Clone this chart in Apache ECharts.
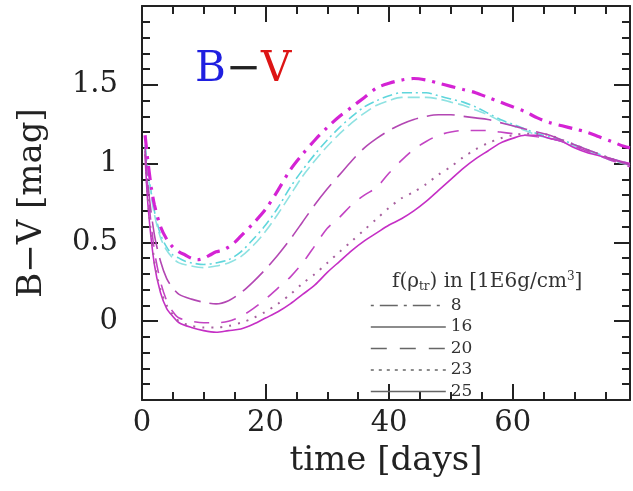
<!DOCTYPE html>
<html>
<head>
<meta charset="utf-8">
<script src="https://cdn.jsdelivr.net/npm/echarts@6/dist/echarts.min.js"></script>
<style>html,body{margin:0;padding:0;background:#fff}#c{width:633px;height:491px}</style>
</head>
<body>
<div id="c"></div>
<script>
// ---- data (days, B-V mag) ----
const legendNames = ['8', '16', '20', '23', '25'];
const xTicks = [0, 20, 40, 60];
const yTicks = [0, 0.5, 1, 1.5];

const curve8 = [[0.5,1.18],[1,1.0],[1.5,0.85],[2,0.74],[3,0.6],[4,0.52],[5,0.47],[6,0.44],[7,0.42],[8,0.40],[9,0.39],[10,0.40],[11,0.42],[12,0.44],[13,0.45],[14,0.47],[15,0.50],[16,0.54],[18,0.62],[20,0.71],[22,0.83],[24,0.96],[26,1.06],[28,1.15],[30,1.23],[32,1.30],[34,1.36],[36,1.42],[38,1.48],[40,1.51],[42,1.53],[44,1.54],[46,1.53],[48,1.51],[50,1.49],[52,1.47],[54,1.45],[56,1.42],[58,1.39],[60,1.36],[62,1.33],[64,1.29],[66,1.26],[68,1.24],[70,1.22],[72,1.20],[74,1.17],[76,1.14],[78,1.11],[79,1.10]];
const cyanA = [[0.5,1.12],[1,0.95],[2,0.7],[3,0.55],[4,0.47],[5,0.42],[6,0.40],[7,0.38],[8,0.37],[10,0.36],[12,0.37],[14,0.39],[16,0.44],[18,0.52],[20,0.61],[22,0.72],[24,0.85],[26,0.96],[28,1.06],[30,1.15],[32,1.23],[34,1.30],[36,1.36],[38,1.40],[40,1.43],[42,1.45],[44,1.45],[46,1.45],[48,1.43],[50,1.41],[52,1.39],[54,1.36],[56,1.32],[58,1.28],[60,1.25],[62,1.22],[64,1.19],[66,1.17],[68,1.15],[70,1.12],[72,1.09],[74,1.06],[76,1.03],[79,1.0]];
const cyanB = [[0.5,1.10],[1,0.92],[2,0.68],[3,0.53],[4,0.45],[5,0.40],[6,0.37],[8,0.35],[10,0.34],[12,0.35],[14,0.37],[16,0.41],[18,0.48],[20,0.57],[22,0.68],[24,0.80],[26,0.92],[28,1.02],[30,1.11],[32,1.19],[34,1.26],[36,1.32],[38,1.37],[40,1.40],[42,1.42],[44,1.42],[46,1.42],[48,1.41],[50,1.39],[52,1.37],[54,1.34],[56,1.31],[58,1.27],[60,1.24],[62,1.21],[64,1.18],[66,1.16],[68,1.14],[70,1.11],[72,1.08],[74,1.05],[76,1.02],[79,0.99]];
const curve16 = [[0.5,1.1],[1,0.85],[2,0.55],[3,0.38],[4,0.27],[5,0.21],[6,0.17],[8,0.14],[10,0.12],[12,0.11],[14,0.13],[16,0.18],[18,0.25],[20,0.33],[22,0.42],[24,0.52],[26,0.63],[28,0.74],[30,0.84],[32,0.93],[34,1.02],[36,1.10],[38,1.16],[40,1.21],[42,1.25],[44,1.28],[46,1.30],[48,1.31],[50,1.31],[52,1.30],[54,1.29],[56,1.28],[58,1.26],[60,1.24],[62,1.22],[64,1.20],[66,1.18],[68,1.15],[70,1.12],[72,1.09],[74,1.06],[76,1.03],[79,0.99]];
const curve20 = [[0.5,1.08],[1,0.8],[2,0.45],[3,0.25],[4,0.13],[5,0.06],[6,0.02],[8,0.0],[10,-0.01],[12,-0.01],[14,0.0],[16,0.03],[18,0.08],[20,0.14],[22,0.21],[24,0.28],[26,0.37],[28,0.48],[30,0.59],[32,0.66],[34,0.74],[36,0.80],[38,0.85],[40,0.94],[42,1.02],[44,1.09],[46,1.14],[48,1.18],[50,1.20],[52,1.21],[54,1.21],[56,1.21],[58,1.20],[60,1.19],[62,1.18],[64,1.17],[66,1.16],[68,1.14],[70,1.11],[72,1.08],[74,1.05],[76,1.02],[79,0.98]];
const curve23 = [[0.5,1.06],[1,0.75],[2,0.38],[3,0.2],[4,0.1],[5,0.04],[6,0.0],[8,-0.03],[10,-0.04],[12,-0.04],[14,-0.03],[16,-0.01],[18,0.02],[20,0.06],[22,0.11],[24,0.17],[26,0.24],[28,0.30],[30,0.37],[32,0.44],[34,0.51],[36,0.58],[38,0.65],[40,0.72],[42,0.78],[44,0.82],[46,0.87],[48,0.93],[50,0.98],[52,1.04],[54,1.09],[56,1.13],[58,1.16],[60,1.18],[62,1.19],[64,1.19],[66,1.18],[68,1.15],[70,1.12],[72,1.09],[74,1.06],[76,1.03],[79,0.99]];
const curve25 = [[0.5,1.05],[1,0.72],[2,0.36],[3,0.18],[4,0.08],[5,0.03],[6,-0.01],[8,-0.04],[10,-0.06],[12,-0.07],[14,-0.06],[16,-0.05],[18,-0.02],[20,0.02],[22,0.06],[24,0.11],[26,0.17],[28,0.23],[30,0.31],[32,0.38],[34,0.45],[36,0.51],[38,0.56],[40,0.61],[42,0.65],[44,0.70],[46,0.76],[48,0.83],[50,0.90],[52,0.97],[54,1.03],[56,1.08],[58,1.13],[60,1.16],[62,1.18],[64,1.18],[66,1.16],[68,1.14],[70,1.10],[72,1.07],[74,1.05],[76,1.03],[79,1.0]];

const FONT = 'DejaVu Serif';
const INK = '#222';
const chart = echarts.init(document.getElementById('c'), null, {renderer: 'canvas'});

function xAx(pos, interval, tickLen, showLabel, showLine, name) {
  return {
    type: 'value', position: pos, min: 0, max: 79, interval: interval,
    name: name || '', nameLocation: 'middle', nameGap: 44,
    nameTextStyle: {fontFamily: FONT, fontSize: 34, color: INK},
    axisLine: {show: showLine, onZero: false, lineStyle: {color: INK, width: 2}},
    axisTick: {show: true, inside: true, length: tickLen, lineStyle: {color: INK, width: 2}},
    axisLabel: {show: showLabel, margin: 9, fontFamily: FONT, fontSize: 29, color: INK,
      formatter: v => xTicks.indexOf(v) >= 0 ? String(v) : ''},
    splitLine: {show: false}
  };
}
function yAx(pos, showLabel, name) {
  return {
    type: 'value', position: pos, min: -0.5, max: 2, interval: 0.5,
    name: name || '', nameLocation: 'middle', nameGap: 93,
    nameTextStyle: {fontFamily: FONT, fontSize: 34, color: INK},
    axisLine: {show: true, onZero: false, lineStyle: {color: INK, width: 2}},
    axisTick: {show: true, inside: true, length: 16, lineStyle: {color: INK, width: 2}},
    minorTick: {show: true, splitNumber: 5, length: 8, lineStyle: {color: INK, width: 2}},
    axisLabel: {show: showLabel, margin: 24, fontFamily: FONT, fontSize: 29, color: INK,
      formatter: v => yTicks.indexOf(v) >= 0 ? String(v) : ''},
    splitLine: {show: false}, minorSplitLine: {show: false}
  };
}
function ln(name, data, color, width, type) {
  return {name: name, type: 'line', data: data, xAxisIndex: 0, yAxisIndex: 0,
    showSymbol: false, symbol: 'none', smooth: 0.3, silent: true, animation: false,
    lineStyle: {color: color, width: width, type: type}, itemStyle: {color: color}};
}
const legendLine = {color: '#666', width: 1.6};
const noSym = {color: 'transparent', borderColor: 'transparent', borderWidth: 0};
chart.setOption({
  animation: false,
  grid: {left: 142, top: 6, width: 498, height: 394, containLabel: false},
  xAxis: [
    xAx('bottom', 20, 16, true, true, 'time [days]'),
    xAx('bottom', 5, 8, false, false),
    xAx('top', 20, 16, false, true),
    xAx('top', 5, 8, false, false)
  ],
  yAxis: [yAx('left', true, 'B\u2212V [mag]'), yAx('right', false)],
  title: [
    {left: 190, top: 44, text: '{b|B}{m|\u2212}{v|V}',
     textStyle: {fontWeight: 'normal', rich: {
       b: {fontFamily: FONT, fontSize: 42, fontWeight: 'normal', color: '#1f1fe0'},
       m: {fontFamily: FONT, fontSize: 42, fontWeight: 'normal', color: '#222'},
       v: {fontFamily: FONT, fontSize: 42, fontWeight: 'normal', color: '#dd1515'}}}},
    {left: 387, top: 266, text: '{a|f(\u03C1}{s|tr}{a|) in [1E6g/cm}{p|3}{a|]}',
     textStyle: {fontWeight: 'normal', rich: {
       a: {fontFamily: FONT, fontSize: 20, fontWeight: 'normal', color: '#333'},
       s: {fontFamily: FONT, fontSize: 12, fontWeight: 'normal', color: '#333', padding: [10, 0, 0, 0]},
       p: {fontFamily: FONT, fontSize: 12, fontWeight: 'normal', color: '#333', padding: [0, 0, 10, 0]}}}}
  ],
  legend: {
    orient: 'vertical', left: 365, top: 292, itemWidth: 75, itemHeight: 12, itemGap: 4.5,
    selectedMode: false,
    itemStyle: noSym,
    textStyle: {fontFamily: FONT, fontSize: 17, color: '#333', lineHeight: 14},
    data: [
      {name: legendNames[0], itemStyle: noSym, lineStyle: Object.assign({type: [3, 6, 18, 6]}, legendLine)},
      {name: legendNames[1], itemStyle: noSym, lineStyle: Object.assign({type: 'solid'}, legendLine)},
      {name: legendNames[2], itemStyle: noSym, lineStyle: Object.assign({type: [16, 13]}, legendLine)},
      {name: legendNames[3], itemStyle: noSym, lineStyle: Object.assign({type: [3, 5]}, legendLine)},
      {name: legendNames[4], itemStyle: noSym, lineStyle: Object.assign({type: 'solid'}, legendLine)}
    ]
  },
  series: [
    ln('cyanA', cyanA, '#5fd6dc', 1.6, [10, 4, 2, 4]),
    ln('cyanB', cyanB, '#8fe2e2', 1.6, [12, 5]),
    ln(legendNames[4], curve25, '#c52fc5', 1.6, 'solid'),
    ln(legendNames[3], curve23, '#a8609f', 2, [2, 7]),
    ln(legendNames[2], curve20, '#c344c3', 1.6, [15, 12]),
    ln(legendNames[1], curve16, '#b347b3', 1.6, [28, 9]),
    ln(legendNames[0], curve8, '#d423d4', 3.2, [14, 7, 3, 7])
  ]
});
</script>
</body>
</html>
